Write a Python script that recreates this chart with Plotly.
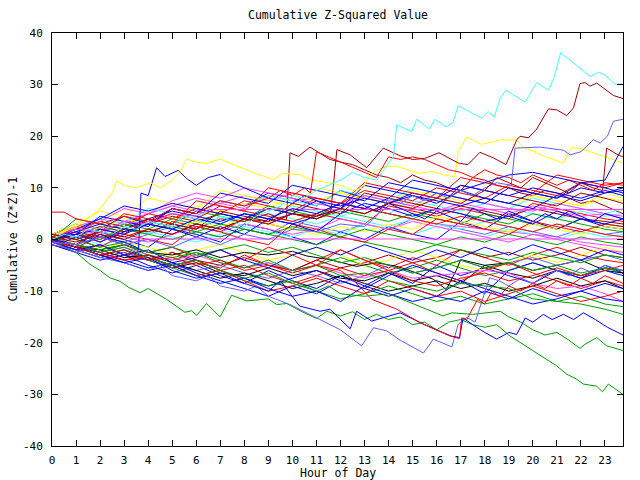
import plotly.graph_objects as go

# ---------------- data (read/estimated from the reference) ----------------
HOURS = list(range(24)) + [23.75]
TICK_HOURS = list(range(24))
Y_TICKS = [-40, -30, -20, -10, 0, 10, 20, 30, 40]

RED = "#ff0000"
GREEN = "#00a000"
BLUE = "#0000ff"
MAGENTA = "#ff40ff"
CYAN = "#40ffff"
YELLOW = "#ffff00"
DARKRED = "#a00000"
BLACK = "#000000"
LIGHTBLUE = "#6060ff"

# --- distinct outer lines (own hour arrays) ---
cyan_top_h = [0, 0.5, 1, 1.5, 2, 2.5, 3, 3.5, 4, 4.5, 5, 5.5, 6, 6.5, 7, 7.5, 8, 8.5, 9, 9.5, 10, 10.5,
              11, 11.5, 12, 12.5, 13, 13.5, 13.8, 14.2, 14.34, 14.48, 14.96, 15.17, 15.7, 15.93, 16.39,
              16.67, 16.9, 17.87, 18.15, 18.4, 18.64, 18.88, 19.68, 20.16, 20.65, 20.88, 21.16, 22.38,
              22.73, 22.96, 23.42, 23.75]
cyan_top_v = [0, 1, 0.5, 2, 1.5, 1, 2.5, 2, 3.5, 3, 2.5, 4.5, 4, 3, 4.5, 3.5, 2.5, 4.5, 5.5, 6.5, 8.5, 8,
              9.5, 10.5, 11.5, 13, 12, 11.5, 13.5, 16.1, 22.2, 21.9, 20.9, 23.3, 21.4, 23.3, 21.8, 22.6,
              25.9, 23.5, 24.8, 23.7, 27.4, 28.9, 26.6, 30.4, 28.9, 31.3, 36.2, 31.6, 32.4, 32, 30.1, 30.1]

darkred_b_h = [0, 1, 2, 3, 4, 5, 6, 7, 8, 9, 10, 11, 11.6, 11.85, 12.4, 13.09, 13.78, 14.06, 14.48, 15,
               15.5, 16.1, 16.9, 17.3, 17.8, 18.36, 18.88, 19.33, 19.47, 19.82, 20.16, 20.65, 21, 21.41,
               21.69, 21.96, 22.17, 22.38, 22.66, 23.35, 23.75]
darkred_b_v = [0.5, -0.5, 1, 0, 2, 1, 3, 2, 4, 3.5, 5, 4.5, 5.5, 17.4, 16.4, 13.9, 17.7, 17.1, 16.2, 15.5,
               15.7, 16.8, 14.8, 14.5, 16.9, 15.8, 14.5, 19.3, 20, 19.7, 21.4, 25.3, 25.1, 24, 25.5, 30.2,
               30.4, 29.7, 30.3, 27.9, 27.3]

darkred_a_h = [0, 1, 2, 3, 4, 5, 6, 7, 8, 9, 9.5, 9.75, 9.9, 10.25, 10.73, 11.56, 12, 12.5, 13, 13.5, 14,
               14.5, 15, 15.5, 16, 16.5, 17, 17.5, 18, 18.5, 19, 19.5, 20, 20.5, 21, 21.5, 22, 22.5, 23,
               23.75]
darkred_a_v = [-0.5, 1, 0, 2, 1.5, 3, 2, 4, 3.5, 5, 4, 3.8, 16.8, 16.1, 17.9, 15.5, 15, 14.5, 13.5, 12.5,
               12, 11, 12.5, 11.5, 11, 10, 9.5, 12, 11.5, 10.5, 10, 9, 8.5, 9.5, 9, 8, 7, 7.5, 6.5, 5]

yellow_top_h = [0, 0.5, 1, 1.5, 2, 2.5, 2.69, 3, 3.5, 4.08, 4.5, 5, 5.32, 5.6, 6, 6.43, 6.99, 7.54, 8.24,
                9.2, 9.6, 10.3, 10.8, 11.5, 12, 12.5, 12.95, 13.2, 13.9, 14.3, 14.8, 15.3, 15.8, 16.3,
                16.75, 16.9, 17.25, 17.87, 18.64, 19.33, 19.6, 20.5, 21.27, 21.6, 22, 22.5, 23, 23.75]
yellow_top_v = [0, 1.5, 2.5, 4, 6, 9, 11.3, 10.5, 10, 11, 10, 11.5, 13, 15.6, 15, 14.7, 15.6, 14.5, 13.2,
                11.6, 12.8, 12.6, 11.5, 11, 10.5, 9.5, 10, 12.6, 14.2, 14.2, 13.5, 12.8, 13.2, 12.5, 12.2,
                17, 19.9, 18.4, 19.3, 19.3, 17.9, 16.1, 14.8, 17.8, 17.6, 16.8, 16, 14.8]

blue_spike_h = [0, 0.5, 1, 1.5, 2, 2.5, 3, 3.5, 3.6, 3.7, 4, 4.35, 4.7, 5.25, 5.6, 6, 6.5, 7, 7.5, 8.2,
                8.5, 9, 9.5, 10, 10.5, 11, 11.5, 12, 12.5, 13, 13.5, 14, 14.5, 15, 15.5, 16, 16.5, 17,
                17.5, 18, 18.5, 19, 19.5, 20, 20.5, 21, 21.5, 22, 22.5, 23, 23.75]
blue_spike_v = [0, -0.5, 0.5, -0.5, 1, 0, -0.5, -1.5, -1.9, 9, 8.5, 13.9, 12.2, 13.4, 11.8, 10.5, 12,
                12.6, 11, 9.7, 9, 8, 7.5, 7, 8.5, 7.5, 6.5, 6, 7.5, 6.5, 5.5, 7, 6, 5, 4, 5.5, 4.5, 3.5,
                6, 5, 4, 5.5, 4.5, 3.5, 5, 4, 5.5, 4.5, 3.5, 5, 4]

lightblue_top_h = [0, 1, 2, 3, 4, 5, 6, 7, 8, 9, 10, 11, 12, 13, 13.5, 14, 14.5, 15, 15.5, 16, 16.5, 17,
                   17.5, 18, 18.5, 19.1, 19.26, 20.3, 21.27, 21.55, 22, 22.52, 22.8, 23.1, 23.35, 23.75]
lightblue_top_v = [-0.5, -1, 0.5, -1, 0, -1.5, 0.5, -1, 1, 0, 2, 1.5, 3, 2.5, 4.5, 8, 7, 8.5, 7.5, 9, 8,
                   9.5, 8.5, 10, 11, 10.5, 17.7, 17.9, 17.3, 16.4, 17, 19.3, 18.7, 20, 22.9, 23.3]

blue_end18_v = [0, 1, 2, 1, 3, 2, 4, 3, 5, 4, 6, 5, 7, 6, 8, 11.5, 10.5, 9.5, 11, 12.5, 13, 12, 11, 11.5, 18]

green_low_h = [0, 0.5, 1, 1.58, 2, 2.4, 2.83, 3.2, 3.66, 4, 4.77, 5.53, 5.8, 6.02, 6.43, 6.99, 7.47, 8.1,
               9, 9.35, 9.76, 10.4, 11, 11.43, 12, 12.5, 13, 13.5, 14, 14.5, 15, 15.5, 16, 16.5, 17, 17.5,
               18, 18.5, 19.05, 19.5, 20, 20.58, 21, 21.41, 21.8, 22.1, 22.65, 22.9, 23.14, 23.75]
green_low_v = [0, -1.5, -2.5, -4.8, -6, -7.4, -8.1, -9.3, -10.3, -9.5, -11.6, -14.1, -13.8, -14.7, -12.4,
               -15, -10.8, -11.9, -11.5, -12.6, -12.4, -14, -15.3, -13.9, -14.8, -14, -15.5, -14.5, -15.5,
               -15, -16.5, -16, -17.5, -16, -15.5, -16.5, -17, -16.5, -18.7, -20, -21.5, -23.2, -24.5,
               -26.1, -27, -28, -28.4, -29.5, -28, -30]

green_mid_h = [0, 1, 2, 3, 4, 5, 6, 7, 8, 9, 10, 11, 11.5, 12, 13, 14, 14.48, 15.31, 16.26, 16.63, 17.5,
               18.64, 19, 19.5, 20, 20.5, 21, 21.5, 21.96, 22.17, 22.66, 23.07, 23.75]
green_mid_v = [0.5, -1, -2.5, -1.5, -3.5, -5, -4, -6, -7.5, -6.5, -8.5, -10, -9, -10.5, -11, -10.5, -11.4,
               -12.9, -14.8, -14.2, -14.5, -13.9, -15, -16, -17.5, -18.5, -18, -19.5, -21.1, -20.3, -19,
               -20.6, -21.5]

green_14_v = [1, 0, -1.5, -0.5, -2.5, -3.5, -2.5, -4.5, -5.5, -4, -6, -5, -7, -6.5, -8, -9, -10, -8.5, -9,
              -9.5, -11.5, -12, -12.5, -13.5, -14.5]

slate_low_h = [0, 0.5, 1, 1.5, 2, 3, 4, 4.5, 5, 6, 6.5, 7, 8, 8.5, 9, 9.9, 11.15, 12, 12.88, 13.37, 13.92,
               14.48, 15.3, 15.45, 15.86, 16.63, 16.9, 17.25, 17.6, 18.2, 18.6, 19, 19.5, 20, 20.5, 21,
               21.5, 22, 22.5, 23, 23.75]
slate_low_v = [-0.5, -1.5, -2.5, -2, -3.5, -4.5, -6, -5, -7, -8, -7, -9, -10, -9, -11, -12.6, -15.5, -17.5,
               -20.6, -17.1, -17.7, -19.5, -21.6, -22, -19.3, -20.8, -16.4, -15.1, -16, -7.4, -8, -9, -7.5,
               -8.5, -7, -6, -7, -5.5, -6.5, -5, -6]

blue_low_h = [0, 1, 2, 3, 4, 5, 6, 7, 8, 9, 9.5, 10.3, 11.15, 11.56, 12.4, 12.67, 13.3, 14.48, 15.5, 16.6,
              16.95, 17.1, 17.5, 18, 18.5, 19, 19.33, 19.68, 20, 20.44, 20.8, 21.27, 21.7, 22.1, 22.6,
              23.1, 23.75]
blue_low_v = [0, -1.5, -3, -4.5, -3.5, -6, -7.5, -6.5, -8.5, -10, -8, -12.9, -13.9, -13.5, -17.3, -13.9,
              -15.8, -14.2, -16.5, -18.7, -19, -15.2, -16.5, -18, -19.3, -18, -18.4, -15.2, -16, -14.5,
              -15.5, -14.5, -15.5, -14.2, -15.5, -17, -18.5]

red_dip_h = [0, 1, 2, 3, 4, 5, 6, 7, 8, 9, 10, 11, 12, 12.5, 13.3, 14.34, 15.3, 16.56, 16.95, 17.04,
             17.25, 17.7, 18, 18.3, 18.6, 19, 19.5, 20, 20.5, 21, 21.5, 22, 22.5, 23, 23.75]
red_dip_v = [0, -1.5, -3, -2, -4, -3.5, -5, -4, -6, -5, -6.5, -5, -6, -7.7, -11.6, -13.5, -16.1, -18.7,
             -19.2, -15.2, -15.5, -11.6, -12.5, -10, -11, -9, -10, -8.5, -9.5, -8, -9, -7.5, -8.5, -7, -8.5]

magenta_flat_hi_h = [0, 1, 2, 3, 4, 5, 6, 6.5, 23.75]
magenta_flat_hi_v = [0.5, 2, 1.5, 3.5, 3, 5, 4.5, 5.8, 5.8]
magenta_flat_zero_h = [0, 1, 2, 3, 3.9, 23.75]
magenta_flat_zero_v = [0, -1, 0.5, -1, 0.1, 0.1]

red_top_h = [0, 0.5, 1, 2, 3, 4, 5, 6, 7, 8, 9, 9.5, 10, 10.5, 10.75, 11, 11.5, 12, 12.5, 13, 13.5, 14,
             14.5, 15, 15.5, 16, 16.5, 17, 17.5, 18, 18.5, 19, 19.5, 20, 20.5, 21, 21.5, 22, 22.5, 23, 23.75]
red_top_v = [5.3, 5.3, 4, 3, 4.5, 3.5, 6, 5, 7.5, 6.5, 8, 9.5, 8.5, 10, 9, 17, 16, 15, 14, 13, 12, 16,
             15.5, 16, 15.5, 14.5, 13.5, 13, 12, 13.5, 12.5, 12, 11, 12.5, 11.5, 10.5, 11.5, 10.5, 9.5, 11,
             10.5]

darkred_end_h = [0, 1, 2, 3, 4, 5, 6, 7, 8, 9, 10, 11, 12, 13, 14, 15, 16, 17, 18, 18.5, 19, 19.5, 20,
                 20.5, 21, 21.5, 22, 22.5, 22.9, 23.07, 23.5, 23.75]
darkred_end_v = [1, 0, 1.5, 0.5, 2, 1, 3, 2, 4, 3, 5, 4, 6, 5, 7, 6, 8, 7, 9.5, 12, 11, 10, 12, 11, 10, 9,
                 11, 10, 9.5, 17.7, 16.5, 16]

black_a_h = [0, 1, 2, 3, 4, 5, 6, 7, 8, 9, 10, 10.6, 11.56, 12.67, 13.5, 14.34, 14.75, 15.86, 16.4, 16.8,
             17, 18, 19, 20, 21, 22, 23, 23.75]
black_a_v = [0, -1.5, -2, -1, -2.5, -3, -2, -3.5, -2.5, -3, -2.3, -3.2, -3.9, -5.2, -4.5, -5.2, -5.8, -7.7,
             -9.7, -6.1, -3.9, -5, -4.5, -6, -5, -4, -6, -6.5]

# --- hourly lines of the central tangle (values at HOURS) ---
black_b = [-0.5, -2, -3.5, -2.5, -4, -5.5, -4.5, -6.5, -7, -5.5, -7, -6, -7.5, -8, -6.5, -8, -7, -8.5, -5, -6.5, -7.5, -6, -7, -5.5, -6]
black_c = [0, -1, -2, -3.5, -3, -4.5, -6, -7.5, -6.5, -8, -9.5, -8.5, -7, -8.5, -10, -9, -8, -9.5, -8.5, -10, -9, -7.5, -9, -8, -9.5]
magenta_low = [0, -1, -2.5, -1.5, -3, -4, -3, -4.5, -5.5, -4.5, -6, -5, -6.5, -7.5, -6, -7.5, -7, -6.5, -6, -6.5, -8.5, -9.5, -9, -10.5, -12]
red_1 = [0, 1.5, -0.5, 2, 1, 3.5, 2.5, 1.5, 4, 3, 2, 5, 4, 3, 6.5, 5.5, 4.5, 6, 5, 4, 7, 6, 5, 4, 3.5]
red_2 = [-1, -2.5, -1, -3, -4, -2.5, -4.5, -5.5, -3, -5, -6, -4, -2, -4, -5.5, -3.5, -5, -2, -3.5, -5, -3, -1.5, -3, -4, -4.5]
red_3 = [0.5, 2, 3.5, 2.5, 5, 4, 6, 5, 7.5, 6.5, 5.5, 8, 7, 9.5, 8.5, 7.5, 10, 9, 8, 10.5, 9.5, 8.5, 11, 10, 11]
red_4 = [-0.5, -1.5, 0.5, -1, -2.5, -1.5, -3.5, -2, -4, -1.5, -3, -5, -2, -4, -6, -4.5, -6.5, -8, -6, -4.5, -6.5, -8, -9.5, -8, -9]
red_5 = [1, 0, -1.5, 1, 0, -1, 2.5, 1.5, 0, -1, 3, 2, 0.5, -0.5, 2, 1, 4, 3, 2, 1, 3.5, 2.5, 1.5, 3, 2.5]
red_6 = [0, -1.5, -3, -4, -3, -5.5, -4, -6, -5, -7, -8.5, -7, -5.5, -7, -6, -8, -9, -7.5, -6.5, -8, -7, -5.5, -7, -6, -5]
red_7 = [0.5, 1.5, 0.5, 2, 3.5, 5, 4, 6.5, 5.5, 4.5, 3.5, 5, 7, 6, 5, 4, 3, 4.5, 3.5, 2.5, 1.5, 3, 2, 1, 0.5]
red_8 = [0, 2.5, 1.5, 5, 4, 3, 7.5, 6.5, 5.5, 10, 9, 8, 7, 11, 10, 9, 8, 12, 11, 10, 9, 12.5, 11.5, 10.5, 11]
red_9 = [0, -1, -2.5, -4, -3.5, -5, -7, -6, -8, -10, -9, -7.5, -9, -10.5, -8, -9.5, -11, -10, -12, -10.5, -9, -10.5, -12, -11, -10]
blue_1 = [0, -1, 1.5, 0, -1.5, 2, 1, -0.5, 3, 2, 0.5, -1, 1.5, 0, 2.5, 1, 0, 3.5, 2, 5, 3.5, 2, 4, 2.5, 2]
blue_2 = [-1, -2.5, -4, -3, -5, -6.5, -5, -7, -8.5, -6, -8, -9.5, -7, -9, -6.5, -8.5, -5, -7, -5.5, -7, -8.5, -6, -7.5, -5, -6.5]
blue_3 = [1, 3, 2, 4.5, 3, 6, 5, 7.5, 6.5, 9, 8, 6.5, 9.5, 8, 7, 8.5, 7, 9.5, 8, 7, 9, 8, 10, 9, 9.5]
blue_4 = [0, -1.5, -3, -2, -3.5, -5, -4, -6, -7.5, -9, -7.5, -6, -8, -9.5, -7, -5, -6.5, -8, -10.5, -6, -4.5, -6, -7.5, -6, -7]
blue_5 = [0.5, 1, -0.5, 1.5, 3, 2, 0.5, 2.5, 1, 4, 3, 1.5, 5, 7, 6, 4.5, 6, 5, 3.5, 4.5, 3, 5.5, 4, 3, 4]
blue_6 = [-0.5, -2, -1, -3, -2, -4.5, -3.5, -2, -4, -5.5, -3, -1.5, -3, -1, -2.5, -4, -2, -3.5, -1.5, -3, -1, -2.5, -4, -2, -3]
blue_7 = [0, 2, 4, 6.5, 5.5, 7, 6, 5, 4, 6, 5, 7.5, 6.5, 8, 7, 9, 8, 10.5, 9.5, 8.5, 10, 9, 8, 9.5, 8.5]
blue_8 = [0, -1.5, -2.5, -4, -5.5, -4.5, -6.5, -8, -9.5, -11, -9, -10.5, -8, -9.5, -11, -9.5, -11, -12, -10, -11.5, -9.5, -11, -10, -8.5, -9.5]
blue_9 = [0, 1.5, 3, 2, 4, 5.5, 4.5, 3.5, 5, 4, 3, 4.5, 6, 10.5, 9.5, 8.5, 7.5, 6.5, 8, 7, 6, 8.5, 7.5, 9, 10]
blue_10 = [0, 1, 4.5, 3.5, 2.5, 6, 5, 9, 8, 7, 10.5, 9.5, 8.5, 7.5, 11, 10, 9, 8, 7, 10, 9, 8, 11, 10, 9]
blue_11 = [0, -1.5, -3, -4.5, -6, -5, -7, -8.5, -7.5, -9.5, -11, -10, -12, -9, -10.5, -12, -11, -8, -9.5, -11, -12.5, -11.5, -10, -11.5, -12]
green_1 = [0, 2, 3.5, 2.5, 4, 3, 5.5, 4.5, 3.5, 6, 5, 4, 5.5, 4.5, 3.5, 5, 4, 3, 5, 4, 3, 2, 4, 3, 2.5]
green_2 = [-0.5, -1.5, -2.5, -1, -3, -4, -2.5, -4, -5.5, -4.5, -6, -5, -3.5, -5, -6.5, -5.5, -4, -5.5, -7, -6, -4.5, -6, -7, -5.5, -6.5]
green_3 = [1, 0, 1.5, 3, 2, 4, 3, 5, 4, 6.5, 5.5, 4.5, 7, 6, 5, 4, 6, 5, 4, 3, 5, 4, 3, 2, 1.5]
green_4 = [0, 4, 3, 2, 3.5, 2.5, 1.5, 0.5, 2, 1, 0, -1, 0.5, -0.5, -1.5, -2.5, -1, -2, -3, -4, -2.5, -3.5, -4.5, -3, -3.5]
green_5 = [0, 1, 0, 2, 1, 0, 1.5, 3, 2, 1, 2.5, 1.5, 0.5, 2, 1, 0, -1, 0.5, -0.5, 1, 0, -1, 0.5, -0.5, -1]
green_6 = [0, -1, -2, -1, -2.5, -1.5, -3, -2, -1, -2.5, -1.5, -3, -4.5, -3.5, -5, -6.5, -5.5, -4, -5.5, -4.5, -6, -5, -6.5, -5.5, -6]
green_7 = [0, -1.5, -3, -2, -4, -5.5, -7, -6, -8, -9, -8, -10, -11.5, -10.5, -9, -10.5, -12, -11, -12.5, -11.5, -10.5, -12, -11, -12.5, -13]
magenta_1 = [0.5, 2, 1, 3.5, 5, 6.5, 5.5, 7, 6, 8.5, 7.5, 8, 7, 6, 5, 4, 3, 2.5, 2, 1.5, 1, 0.5, -0.5, -1, -1.5]
magenta_2 = [1, 2.5, 4, 3, 5, 6.5, 8, 7, 8.5, 7.5, 9, 8, 7, 8.5, 7.5, 6.5, 5.5, 7, 6, 5, 6.5, 5.5, 4.5, 5, 4]
magenta_3 = [-0.5, 0.5, 1.5, 0.5, -0.5, 1, 2.5, 1.5, 3, 2, 1, 2, 4, 3, 2, 3.5, 2.5, 1.5, 0.5, -0.5, 1, 0, -1, -2, -2.5]
magenta_4 = [0, 1.5, 3.5, 6, 5, 7.5, 9, 8, 10, 9, 8, 7, 6, 8.5, 7.5, 6.5, 9, 8, 7, 6, 5.5, 7, 6, 5, 4.5]
cyan_1 = [0, 1, 2.5, 1.5, 3, 2, 4, 3, 5, 4, 6.5, 5.5, 4.5, 6, 5, 7.5, 6.5, 5.5, 7, 6, 5, 4, 5.5, 4.5, 5]
cyan_2 = [-0.5, 0.5, -1, 0, 1.5, 0.5, -0.5, 1, 2.5, 1.5, 0.5, 2, 1, 3, 2, 1, 2.5, 1.5, 0.5, 2, 1, 0, 1.5, 0.5, 1]
cyan_3 = [0, -1, 0.5, 2, 1, 3, 2, 4.5, 3.5, 5, 4, 3, 4.5, 3.5, 2.5, 4, 3, 2, 3.5, 2.5, 1.5, 3, 2, 1, 0.5]
cyan_4 = [0, 2, 4, 3, 6, 5, 4, 7.5, 6.5, 8.5, 7.5, 6.5, 9.5, 8.5, 7.5, 10, 9, 8, 7, 6, 8, 7, 6, 5, 6]
yellow_1 = [0.5, 2, 4, 3, 5, 4, 6.5, 5.5, 7, 6, 8.5, 7.5, 9, 8, 7, 9.5, 8.5, 7.5, 8, 7, 8.5, 7.5, 6.5, 8, 7.5]
yellow_2 = [0, -1, -2, -0.5, -1.5, -3, -2, -1, -2.5, -4, -3, -1.5, -3, -5, -4, -2, -3.5, -5, -6, -4.5, -3, -4.5, -3, -1.5, -2.5]
yellow_3 = [1, 3, 2, 4, 3, 2, 3.5, 2.5, 4, 3, 2, 1, 2.5, 1.5, 3, 2, 4.5, 3.5, 2.5, 1.5, 3, 2, 1, 2.5, 2]
yellow_4 = [0.5, 3, 5.5, 4.5, 8, 7, 6, 9.5, 8.5, 7.5, 6.5, 10, 9, 8, 7, 6, 9, 8, 7, 6, 8.5, 7.5, 6.5, 9, 8]
darkred_1 = [0, 1, 2.5, 1.5, 3, 4.5, 3.5, 5, 4, 3, 5, 4, 6, 5, 7, 6, 5, 6.5, 5.5, 4.5, 6, 5, 4, 3.5, 3]
darkred_2 = [-0.5, -2, -1, -3, -4, -2.5, -4, -5, -3.5, -5, -6, -4, -5.5, -4.5, -3, -4.5, -3.5, -2, -3.5, -2.5, -4, -3, -1.5, -3, -3.5]
darkred_3 = [0, -1, 2, 1, 4, 3, 2, 5.5, 4.5, 3.5, 7, 6, 5, 9, 8, 7, 6, 10.5, 9.5, 8.5, 7.5, 6.5, 9, 8, 7]
lightblue_1 = [0, -1, 0.5, -0.5, 1, 2.5, 1.5, 0.5, 2, 1, 3.5, 2.5, 1.5, 3, 2, 4, 3, 2, 1, 2.5, 1.5, 0.5, 2, 1, 1.5]
lightblue_2 = [-1, -2, -3.5, -2.5, -4, -5, -6, -5, -6.5, -7.5, -6, -7, -8.5, -7, -5, -6.5, -5.5, -4, -5.5, -4.5, -3.5, -5, -4, -3, -4]

# (colour, hours, values) in drawing order
SERIES = [
    (RED, HOURS, red_1), (GREEN, HOURS, green_1), (BLUE, HOURS, blue_1), (MAGENTA, HOURS, magenta_1),
    (CYAN, HOURS, cyan_1), (DARKRED, HOURS, darkred_1), (YELLOW, HOURS, yellow_1), (BLACK, HOURS, black_b),
    (LIGHTBLUE, HOURS, lightblue_1),
    (RED, HOURS, red_2), (GREEN, HOURS, green_2), (BLUE, HOURS, blue_2), (MAGENTA, HOURS, magenta_2),
    (CYAN, HOURS, cyan_2), (DARKRED, HOURS, darkred_2), (YELLOW, HOURS, yellow_2), (BLACK, black_a_h, black_a_v),
    (LIGHTBLUE, HOURS, lightblue_2),
    (RED, HOURS, red_3), (GREEN, HOURS, green_3), (BLUE, HOURS, blue_3), (MAGENTA, HOURS, magenta_3),
    (CYAN, HOURS, cyan_3), (DARKRED, darkred_a_h, darkred_a_v), (YELLOW, HOURS, yellow_3),
    (RED, HOURS, red_4), (GREEN, HOURS, green_4), (BLUE, HOURS, blue_4), (MAGENTA, HOURS, magenta_low),
    (YELLOW, HOURS, yellow_4), (CYAN, HOURS, cyan_4), (MAGENTA, HOURS, magenta_4), (DARKRED, HOURS, darkred_3),
    (RED, HOURS, red_5), (GREEN, HOURS, green_5), (BLUE, HOURS, blue_5), (BLACK, HOURS, black_c),
    (RED, HOURS, red_6), (GREEN, HOURS, green_6), (BLUE, HOURS, blue_6), (GREEN, HOURS, green_7),
    (RED, HOURS, red_7), (BLUE, HOURS, blue_7), (BLUE, HOURS, blue_8), (BLUE, HOURS, blue_9),
    (RED, HOURS, red_8), (BLUE, HOURS, blue_10), (RED, HOURS, red_9), (BLUE, HOURS, blue_11),
    (MAGENTA, magenta_flat_hi_h, magenta_flat_hi_v), (MAGENTA, magenta_flat_zero_h, magenta_flat_zero_v),
    (GREEN, HOURS, green_14_v), (GREEN, green_mid_h, green_mid_v), (GREEN, green_low_h, green_low_v),
    (LIGHTBLUE, slate_low_h, slate_low_v), (BLUE, blue_low_h, blue_low_v), (RED, red_dip_h, red_dip_v),
    (BLUE, blue_spike_h, blue_spike_v), (YELLOW, yellow_top_h, yellow_top_v), (RED, red_top_h, red_top_v),
    (BLUE, HOURS, blue_end18_v), (LIGHTBLUE, lightblue_top_h, lightblue_top_v),
    (DARKRED, darkred_end_h, darkred_end_v), (DARKRED, darkred_b_h, darkred_b_v),
    (CYAN, cyan_top_h, cyan_top_v),
]

# ---------------- figure ----------------
FONT = "DejaVu Sans Mono"
fig = go.Figure()
for colour, xs, ys in SERIES:
    fig.add_trace(go.Scatter(x=xs, y=ys, mode="lines", line=dict(color=colour, width=1),
                             showlegend=False, hoverinfo="skip"))

L, R, T, B = 52, 17, 33, 34
PW, PH = 640 - L - R, 480 - T - B

fig.update_layout(
    width=640, height=480,
    margin=dict(l=L, r=R, t=T, b=B, pad=0),
    paper_bgcolor="white", plot_bgcolor="white",
    font=dict(family=FONT, size=11, color="black"),
    showlegend=False,
)
fig.update_xaxes(
    range=[0, 23.75], tickmode="array", tickvals=TICK_HOURS, ticktext=[str(h) for h in TICK_HOURS],
    ticks="inside", ticklen=6, tickwidth=1, tickcolor="black",
    showline=True, linecolor="black", linewidth=1, mirror="ticks",
    showgrid=False, zeroline=False, ticklabelstandoff=4,
)
fig.update_yaxes(
    range=[-40, 40], tickmode="array", tickvals=Y_TICKS, ticktext=[str(v) for v in Y_TICKS],
    ticks="inside", ticklen=6, tickwidth=1, tickcolor="black",
    showline=True, linecolor="black", linewidth=1, mirror="ticks",
    showgrid=False, zeroline=False, ticklabelstandoff=6,
)
fig.add_annotation(text="Cumulative Z-Squared Value", xref="paper", yref="paper",
                   x=0.5, y=1 + (T - 15) / PH, xanchor="center", yanchor="middle",
                   showarrow=False, font=dict(family=FONT, size=11.5, color="black"))
fig.add_annotation(text="Hour of Day", xref="paper", yref="paper",
                   x=0.5, y=-(473 - (T + PH)) / PH, xanchor="center", yanchor="middle",
                   showarrow=False, font=dict(family=FONT, size=11.5, color="black"))
fig.add_annotation(text="Cumulative (Z*Z)-1", xref="paper", yref="paper",
                   x=(12 - L) / PW, y=0.5, xanchor="center", yanchor="middle", textangle=-90,
                   showarrow=False, font=dict(family=FONT, size=11.5, color="black"))

# remove the browser's default 8px page margin so the 640x480 figure fills the window
fig.write_html("out.html", config={"displayModeBar": False, "staticPlot": True},
               post_script="document.body.style.margin='0px';")
